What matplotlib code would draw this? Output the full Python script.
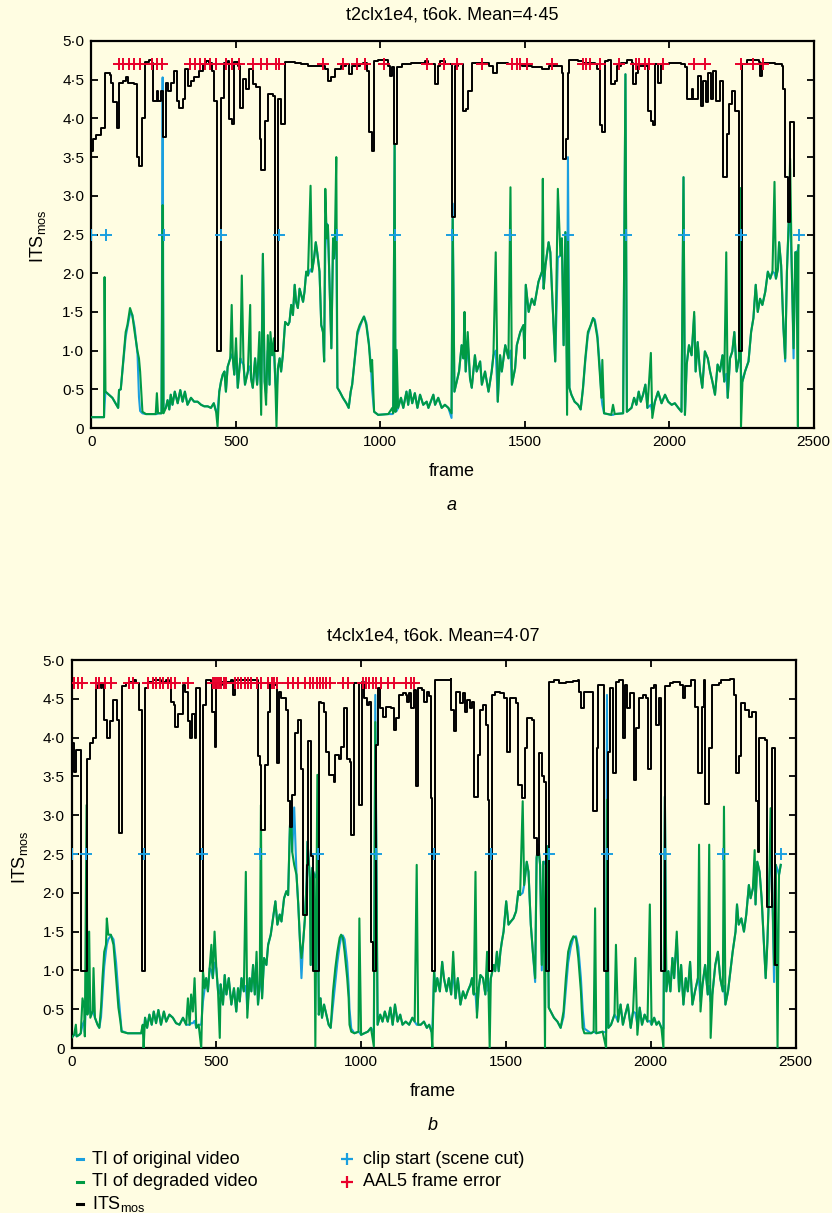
import matplotlib
matplotlib.use('Agg')
import matplotlib.pyplot as plt
from matplotlib.lines import Line2D

plt.rcParams['font.family'] = ['Liberation Sans', 'DejaVu Sans']
plt.rcParams['mathtext.default'] = 'regular'

BG = '#fffde2'
BLUE = '#1a9fdf'
GREEN = '#009a44'
RED = '#e8002b'

# ---------------- data ----------------
clip_start = [0, 50, 250, 450, 650, 850, 1050, 1250, 1450, 1650, 1850, 2050, 2250, 2450]
clip_level = 2.5
aal5_level = 4.7
y_ticks = [0, 0.5, 1.0, 1.5, 2.0, 2.5, 3.0, 3.5, 4.0, 4.5, 5.0]
y_ticklabels = ['0', '0·5', '1·0', '1·5', '2·0', '2·5', '3·0', '3·5', '4·0', '4·5', '5·0']
x_ticks = [0, 500, 1000, 1500, 2000, 2500]

# panel a : (frame, TI degraded, TI original)
ti_a = [(0,0.14,0.14),(44,0.14,0.14),(46,1.95,0.30),(49,0.47,0.47),(61,0.43,0.43),(73,0.39,0.39),(84,0.32,0.32),
(93,0.26,0.26),(96,0.49,0.49),(102,0.50,0.50),(111,0.90,0.86),(119,1.24,1.18),(125,1.33,1.30),(134,1.55,1.48),
(142,1.46,1.46),(150,1.24,1.30),(160,0.99,0.95),(165,0.90,0.40),(169,0.73,0.22),(177,0.21,0.19),(189,0.18,0.18),
(223,0.18,0.18),(227,0.45,0.18),(231,0.19,0.19),(243,0.19,0.19),(247,2.88,4.53),(250,0.19,0.22),(258,0.26,0.26),
(264,0.36,0.36),(270,0.24,0.24),(275,0.43,0.43),(281,0.30,0.30),(289,0.47,0.47),(299,0.32,0.32),(308,0.49,0.49),
(316,0.34,0.34),(324,0.47,0.47),(333,0.30,0.30),(345,0.39,0.39),(356,0.34,0.34),(368,0.34,0.34),(380,0.30,0.30),
(391,0.28,0.28),(403,0.28,0.28),(414,0.26,0.26),(424,0.32,0.32),(432,0.21,0.21),(437,0.02,0.22),(443,0.47,0.47),
(449,0.60,0.60),(455,0.69,0.69),(461,0.73,0.73),(466,0.47,0.47),(472,0.79,0.79),(481,0.90,0.90),(486,1.59,0.95),
(490,0.90,0.90),(495,0.69,0.69),(501,1.16,1.00),(507,0.52,0.52),(516,0.90,0.90),(521,1.97,0.85),(527,0.82,0.82),
(532,0.56,0.56),(542,0.73,0.73),(550,1.59,0.80),(553,0.64,0.64),(559,0.52,0.52),(567,0.90,0.90),(574,0.56,0.56),
(582,1.24,0.90),(588,0.17,0.50),(594,2.25,2.25),(600,0.60,0.60),(605,0.30,0.45),(611,1.20,1.00),(617,0.56,0.56),
(620,1.24,1.10),(626,0.94,0.94),(632,1.16,1.00),(637,0.60,0.60),(641,0.02,0.45),(646,0.77,0.77),(652,0.90,0.90),
(657,0.73,0.73),(663,0.94,0.94),(671,1.37,1.37),(681,1.33,1.33),(686,1.37,1.37),(692,1.59,1.59),(698,1.46,1.46),
(704,1.85,1.85),(709,1.63,1.63),(715,1.55,1.55),(721,1.80,1.80),(733,1.63,1.63),(738,1.76,1.76),(744,2.02,2.02),
(750,1.97,1.97),(759,3.13,2.05),(764,2.02,2.02),(771,2.19,2.19),(777,2.40,2.40),(782,2.27,2.27),(790,2.02,2.02),
(796,1.33,1.33),(802,1.24,1.24),(806,0.86,0.86),(810,3.09,2.30),(815,2.45,2.64),(819,2.62,2.62),(831,1.03,1.03),
(837,2.45,2.45),(840,2.19,2.19),(843,2.36,2.36),(848,3.50,2.40),(852,0.52,0.52),(860,0.47,0.47),(871,0.39,0.39),
(883,0.32,0.32),(891,0.26,0.26),(898,0.47,0.47),(903,0.56,0.56),(912,0.90,0.88),(921,1.24,1.20),(929,1.33,1.30),
(941,1.42,1.42),(944,1.44,1.44),(952,1.33,1.36),(961,1.07,1.10),(968,0.73,0.80),(972,0.88,0.50),(979,0.21,0.21),
(993,0.17,0.17),(1028,0.18,0.18),(1042,0.26,0.18),(1045,0.19,0.19),(1050,3.67,3.67),(1053,0.21,0.21),(1057,1.01,0.22),
(1062,0.26,0.26),(1072,0.39,0.39),(1080,0.26,0.26),(1091,0.47,0.47),(1097,0.30,0.30),(1103,0.49,0.49),(1111,0.32,0.32),
(1120,0.45,0.45),(1129,0.26,0.26),(1138,0.43,0.43),(1149,0.30,0.30),(1161,0.34,0.34),(1167,0.26,0.26),(1184,0.43,0.43),
(1190,0.30,0.30),(1201,0.39,0.39),(1213,0.26,0.26),(1224,0.30,0.30),(1236,0.26,0.26),(1247,0.19,0.13),(1251,2.70,2.90),
(1257,0.47,0.47),(1265,0.60,0.60),(1273,0.73,0.73),(1282,1.07,1.07),(1288,0.90,0.90),(1292,1.50,1.20),(1296,0.73,0.73),
(1303,1.24,1.10),(1311,0.64,0.64),(1317,0.52,0.52),(1328,0.94,0.94),(1334,0.73,0.73),(1346,0.86,0.86),(1352,0.56,0.56),
(1363,0.73,0.73),(1375,0.47,0.47),(1386,0.73,0.73),(1392,0.94,0.94),(1400,2.27,1.00),(1407,0.34,0.34),(1415,0.94,0.94),
(1421,0.73,0.73),(1433,1.07,1.07),(1444,0.90,0.90),(1451,3.11,1.00),(1456,0.56,0.56),(1467,0.77,0.77),(1473,1.07,1.07),
(1485,1.24,1.24),(1496,1.33,1.33),(1500,0.90,0.90),(1504,1.85,1.85),(1514,1.50,1.50),(1525,1.67,1.67),(1534,1.59,1.59),
(1548,1.89,1.89),(1560,2.02,2.02),(1563,3.22,2.00),(1566,1.80,1.80),(1572,2.10,2.10),(1583,2.40,2.40),(1589,2.27,2.27),
(1600,1.33,1.33),(1606,0.86,0.86),(1615,3.09,2.20),(1624,2.23,2.23),(1629,2.45,2.45),(1635,1.07,1.07),(1641,2.53,2.53),
(1647,0.17,0.80),(1650,2.45,3.50),(1655,0.52,0.52),(1662,0.43,0.43),(1673,0.34,0.34),(1685,0.30,0.30),(1694,0.24,0.24),
(1702,0.52,0.50),(1710,0.90,0.86),(1719,1.24,1.20),(1729,1.33,1.33),(1737,1.42,1.42),(1743,1.37,1.40),(1752,1.16,1.20),
(1760,0.73,0.80),(1766,0.39,0.40),(1769,0.88,0.30),(1775,0.19,0.19),(1800,0.17,0.17),(1806,0.30,0.17),(1812,0.18,0.18),
(1841,0.19,0.19),(1849,4.57,4.57),(1854,0.21,0.21),(1870,0.26,0.26),(1879,0.39,0.39),(1887,0.30,0.30),(1895,0.47,0.47),
(1902,0.34,0.34),(1910,0.43,0.43),(1918,0.56,0.56),(1925,0.26,0.26),(1937,0.97,0.30),(1942,0.13,0.20),(1951,0.34,0.34),
(1962,0.47,0.47),(1974,0.32,0.32),(1986,0.43,0.43),(1997,0.34,0.34),(2009,0.30,0.30),(2020,0.32,0.32),(2032,0.26,0.26),
(2043,0.21,0.21),(2050,3.24,3.24),(2055,0.17,0.17),(2061,0.82,0.82),(2069,1.07,1.07),(2078,0.94,0.94),(2087,1.50,1.45),
(2092,0.73,0.73),(2099,1.11,1.11),(2107,0.73,0.73),(2115,0.52,0.52),(2124,0.99,0.99),(2134,0.90,0.90),(2142,0.73,0.73),
(2150,0.60,0.60),(2159,0.43,0.43),(2168,0.82,0.82),(2176,0.73,0.73),(2185,0.94,0.94),(2191,0.60,0.60),(2198,2.27,0.70),
(2203,0.39,0.39),(2211,0.90,0.90),(2219,0.99,0.99),(2226,1.24,1.24),(2234,0.73,0.73),(2242,0.90,0.90),(2247,3.10,1.00),
(2249,0.02,0.70),(2254,0.60,0.60),(2263,0.73,0.73),(2275,0.86,0.86),(2284,1.24,1.24),(2292,1.42,1.42),(2300,1.85,1.85),
(2307,1.50,1.50),(2315,1.67,1.67),(2323,1.59,1.59),(2333,1.76,1.76),(2342,2.02,2.02),(2350,1.93,1.93),(2358,2.02,2.02),
(2365,3.18,2.00),(2370,1.93,1.93),(2377,2.06,2.06),(2381,2.40,2.40),(2388,2.10,2.10),(2396,1.29,1.29),(2402,0.90,0.86),
(2408,2.02,2.02),(2414,2.64,2.64),(2419,3.48,2.70),(2425,2.02,2.02),(2431,1.03,0.90),(2437,2.27,2.27),(2441,2.27,2.27),
(2446,0.02,2.30),(2448,2.36,2.36)]

# panel a : ITSmos steps (frame, value)
its_a = [(0,3.58),(7,3.73),(15,3.78),(32,3.87),(46,4.59),(65,4.56),(69,4.46),(76,4.21),(88,3.88),(97,4.46),(109,4.48),
(119,4.54),(127,4.46),(148,4.44),(157,3.50),(166,3.39),(177,4.01),(185,4.73),(200,4.76),(209,4.72),(215,4.23),(227,4.36),
(231,4.23),(241,4.36),(247,3.76),(259,4.46),(266,4.36),(275,4.46),(285,4.61),(296,4.23),(304,4.14),(319,4.25),(325,4.64),
(336,4.42),(345,4.48),(356,4.54),(374,4.61),(385,4.70),(397,4.74),(409,4.72),(417,4.61),(426,4.23),(436,0.99),(449,4.27),
(458,4.72),(472,4.74),(478,3.99),(486,3.93),(495,4.73),(507,4.68),(516,4.14),(524,4.51),(536,4.38),(547,4.64),(559,4.44),
(571,4.40),(584,3.73),(588,3.33),(600,3.97),(611,4.31),(628,4.29),(637,0.99),(648,4.25),(657,3.93),(669,4.73),(704,4.72),
(727,4.70),(750,4.68),(785,4.68),(808,4.64),(819,4.48),(831,4.53),(845,4.64),(863,4.68),(883,4.70),(891,4.57),(903,4.68),
(929,4.70),(941,4.72),(956,4.61),(960,3.82),(970,3.58),(979,4.74),(993,4.76),(1028,4.68),(1033,4.55),(1041,4.66),
(1047,3.67),(1059,4.66),(1077,4.70),(1108,4.72),(1155,4.74),(1166,4.70),(1189,4.44),(1200,4.68),(1207,4.74),(1225,4.70),
(1250,2.73),(1259,4.68),(1268,4.70),(1286,4.10),(1296,4.12),(1305,4.36),(1319,4.72),(1375,4.68),(1392,4.59),(1404,4.72),
(1444,4.70),(1490,4.68),(1525,4.66),(1560,4.64),(1583,4.68),(1620,4.68),(1629,4.59),(1633,3.48),(1643,3.73),(1650,4.59),
(1655,4.76),(1685,4.74),(1702,4.72),(1743,4.70),(1752,4.64),(1760,3.91),(1769,3.82),(1777,4.74),(1788,4.76),(1798,4.44),
(1812,4.48),(1819,4.68),(1835,4.72),(1853,4.76),(1870,4.72),(1876,4.44),(1887,4.59),(1893,4.68),(1928,4.10),(1937,3.97),
(1945,3.91),(1953,4.70),(1960,4.46),(1972,4.70),(2000,4.71),(2043,4.70),(2055,4.66),(2061,4.25),(2078,4.38),(2084,4.25),
(2101,4.55),(2110,4.16),(2119,4.48),(2127,4.21),(2136,4.59),(2145,4.25),(2153,4.61),(2163,4.23),(2176,4.48),(2188,3.24),
(2200,3.80),(2209,4.18),(2217,4.36),(2229,4.10),(2242,0.99),(2254,4.70),(2269,4.76),(2310,4.73),(2315,4.55),(2321,4.72),
(2367,4.70),(2390,4.68),(2396,4.38),(2402,3.24),(2412,2.66),(2420,3.95),(2432,3.26),(2434,3.26)]

aal5_a = [95, 111, 130, 149, 167, 211, 227, 245, 340, 358, 375, 392, 412, 433, 468, 488, 512, 560, 589, 607, 641, 651,
          801, 873, 919, 948, 1012, 1162, 1220, 1266, 1351, 1456, 1472, 1485, 1507, 1594, 1703, 1714, 1725, 1760, 1826,
          1885, 1897, 1916, 1932, 1978, 2086, 2126, 2248, 2292, 2326]

# panel b : (frame, TI degraded, TI original)
ti_b = [(0,0.13,0.13),(9,0.17,0.17),(15,0.30,0.17),(18,0.15,0.15),(27,0.17,0.17),(32,0.19,0.19),(38,0.64,0.30),
(44,0.52,0.35),(46,0.15,0.20),(52,3.13,0.80),(55,0.43,0.60),(61,1.50,0.50),(65,0.39,0.45),(73,0.47,0.47),(76,1.03,0.45),
(81,0.39,0.39),(90,0.30,0.30),(96,0.26,0.26),(102,0.52,0.40),(107,0.90,0.70),(113,1.24,1.05),(119,1.33,1.25),
(122,1.67,1.33),(127,1.46,1.40),(136,1.46,1.45),(145,1.33,1.40),(154,0.90,1.10),(162,0.52,0.70),(169,0.34,0.40),
(173,0.21,0.22),(194,0.19,0.19),(240,0.19,0.19),(246,0.30,0.19),(249,0.00,0.20),(254,0.39,0.39),(261,0.26,0.26),
(269,0.43,0.43),(277,0.30,0.30),(284,0.47,0.47),(292,0.32,0.32),(300,0.49,0.49),(309,0.30,0.30),(319,0.47,0.47),
(327,0.34,0.34),(338,0.43,0.43),(350,0.39,0.39),(361,0.32,0.32),(373,0.30,0.30),(385,0.39,0.39),(396,0.30,0.30),
(402,0.64,0.30),(408,0.30,0.30),(413,0.69,0.32),(419,0.47,0.32),(425,0.90,0.35),(431,0.26,0.26),(439,0.30,0.30),
(448,0.00,0.30),(454,0.99,0.60),(460,0.77,0.77),(465,0.90,0.90),(471,0.73,0.73),(477,1.03,1.03),(483,1.33,1.00),
(488,0.90,0.90),(494,1.50,1.10),(500,1.03,1.03),(506,0.73,0.73),(512,0.13,0.70),(515,0.82,0.82),(523,0.56,0.56),
(529,0.94,0.94),(535,0.69,0.69),(543,0.90,0.90),(552,0.56,0.56),(561,0.77,0.77),(569,0.47,0.47),(575,0.77,0.77),
(581,0.60,0.60),(587,0.90,0.90),(595,0.73,0.73),(602,2.27,0.80),(607,0.39,0.50),(615,0.90,0.90),(621,0.73,0.73),
(627,1.07,1.07),(633,0.69,0.69),(639,1.24,1.10),(644,0.56,0.56),(650,0.82,0.82),(654,3.13,1.00),(658,0.64,0.64),
(665,1.16,1.16),(673,1.07,1.07),(679,1.33,1.33),(688,1.46,1.46),(696,1.67,1.67),(704,1.89,1.89),(711,1.59,1.59),
(719,1.72,1.72),(725,1.63,1.63),(734,1.93,1.93),(742,2.02,2.02),(748,1.97,1.97),(754,2.83,2.83),(758,3.18,3.13),
(762,2.53,2.53),(769,2.36,3.10),(777,2.23,2.23),(783,1.85,1.85),(789,1.37,1.37),(794,1.16,0.90),(800,1.37,1.37),
(806,1.67,1.67),(812,2.15,2.15),(815,2.66,2.66),(820,2.36,2.36),(823,2.19,2.19),(826,1.07,1.07),(831,2.32,2.32),
(838,2.23,2.23),(842,0.02,2.20),(849,3.52,2.30),(854,0.43,0.43),(860,0.64,0.64),(865,0.39,0.39),(872,0.56,0.56),
(880,0.43,0.43),(888,0.30,0.30),(895,0.26,0.26),(903,0.73,0.55),(911,1.03,0.85),(918,1.24,1.10),(926,1.42,1.33),
(931,1.46,1.42),(937,1.42,1.45),(943,1.24,1.40),(952,0.90,1.10),(957,0.64,0.80),(960,0.30,0.50),(966,0.21,0.25),
(977,0.19,0.19),(991,0.21,0.21),(994,1.67,0.20),(1000,0.17,0.17),(1011,0.19,0.19),(1023,0.21,0.21),(1034,0.26,0.26),
(1044,0.02,0.20),(1049,4.20,4.55),(1057,0.30,0.30),(1066,0.43,0.43),(1074,0.34,0.34),(1082,0.47,0.47),(1092,0.34,0.34),
(1101,0.52,0.52),(1109,0.30,0.30),(1117,0.56,0.56),(1126,0.34,0.34),(1135,0.43,0.43),(1143,0.30,0.30),(1154,0.34,0.34),
(1166,0.30,0.30),(1177,0.39,0.39),(1185,0.34,0.34),(1192,2.36,0.30),(1197,0.30,0.30),(1206,0.30,0.30),(1217,0.34,0.34),
(1227,0.26,0.26),(1235,0.30,0.30),(1243,0.21,0.21),(1246,0.00,0.25),(1252,0.99,0.99),(1257,0.73,0.73),(1263,0.90,0.90),
(1272,0.73,0.73),(1280,1.11,1.11),(1286,0.90,0.90),(1295,0.73,0.73),(1303,0.90,0.90),(1311,0.69,0.69),(1318,1.24,1.00),
(1326,0.64,0.64),(1334,0.90,0.90),(1343,0.56,0.56),(1352,0.73,0.73),(1360,0.64,0.64),(1368,0.73,0.73),(1378,0.82,0.82),
(1383,0.90,0.90),(1389,0.69,0.69),(1395,2.27,0.70),(1400,0.39,0.45),(1406,0.77,0.77),(1412,0.94,0.94),(1421,0.90,0.90),
(1429,0.69,0.69),(1435,1.24,1.00),(1440,0.73,0.73),(1444,0.00,0.80),(1448,0.90,0.90),(1458,1.07,1.07),(1463,0.99,0.99),
(1469,1.24,1.24),(1475,0.99,0.99),(1481,1.24,1.24),(1486,1.37,1.37),(1492,1.50,1.50),(1501,1.89,1.89),(1509,1.59,1.59),
(1517,1.63,1.63),(1526,1.67,1.67),(1535,1.76,1.76),(1543,2.02,2.02),(1549,1.97,1.97),(1558,3.18,2.00),(1563,2.10,2.10),
(1572,2.40,2.40),(1578,2.27,2.27),(1586,1.59,1.59),(1593,1.24,1.24),(1601,0.90,0.85),(1606,2.45,2.45),(1612,2.62,2.62),
(1618,2.36,2.36),(1624,1.07,1.00),(1629,2.40,2.40),(1635,0.00,2.40),(1638,2.36,2.36),(1643,2.60,2.60),(1648,0.52,0.52),
(1655,0.47,0.47),(1666,0.39,0.39),(1678,0.34,0.34),(1689,0.26,0.26),(1699,0.47,0.40),(1707,0.90,0.75),(1715,1.24,1.10),
(1724,1.37,1.30),(1733,1.44,1.42),(1742,1.42,1.44),(1750,1.16,1.30),(1759,0.73,0.90),(1765,0.26,0.50),(1771,0.19,0.25),
(1794,0.19,0.19),(1803,0.21,0.21),(1808,1.80,0.20),(1812,0.19,0.19),(1834,0.21,0.21),(1846,0.00,0.20),(1849,3.20,4.55),
(1854,0.26,0.26),(1863,0.30,0.30),(1875,0.43,0.43),(1880,1.33,0.40),(1887,0.34,0.34),(1896,0.56,0.56),(1904,0.30,0.30),
(1912,0.43,0.43),(1921,0.56,0.56),(1931,0.26,0.26),(1939,0.47,0.47),(1947,1.16,0.45),(1954,0.17,0.30),(1962,0.52,0.52),
(1970,0.30,0.30),(1979,0.43,0.43),(1989,0.34,0.34),(1997,1.85,0.35),(2003,0.30,0.30),(2012,0.39,0.39),(2020,0.30,0.30),
(2028,0.34,0.34),(2037,0.26,0.26),(2044,0.00,0.25),(2049,3.24,3.24),(2054,0.73,0.73),(2061,0.99,0.99),(2068,0.73,0.73),
(2075,1.16,1.16),(2081,0.90,0.90),(2090,1.50,1.40),(2098,0.73,0.73),(2105,1.07,1.07),(2113,0.56,0.56),(2121,0.90,0.90),
(2128,0.73,0.73),(2136,1.11,1.11),(2144,0.56,0.56),(2153,0.73,0.73),(2163,0.90,0.90),(2167,2.62,0.85),(2172,0.47,0.60),
(2179,0.82,0.82),(2188,1.07,1.07),(2197,0.69,0.69),(2202,2.62,0.80),(2207,0.13,0.60),(2214,0.73,0.73),(2223,1.07,1.07),
(2232,1.24,1.24),(2240,0.90,0.90),(2249,0.73,0.73),(2253,3.11,0.80),(2258,0.56,0.56),(2267,0.73,0.73),(2275,0.99,0.99),
(2283,1.24,1.24),(2293,1.50,1.50),(2298,1.85,1.85),(2304,1.59,1.59),(2313,1.67,1.67),(2322,1.50,1.50),(2330,1.72,1.72),
(2339,2.10,2.10),(2345,1.93,1.93),(2353,2.06,2.06),(2359,2.55,2.30),(2362,1.85,1.85),(2368,2.40,2.40),(2376,2.27,2.27),
(2383,1.93,1.93),(2391,1.33,1.33),(2397,0.90,0.90),(2403,1.37,1.37),(2409,2.06,2.06),(2414,3.09,2.50),(2418,2.36,2.36),
(2426,1.07,0.85),(2432,2.36,2.36),(2438,0.00,2.30),(2443,2.23,2.23),(2449,2.36,2.36)]

its_b = [(0,3.93),(9,3.56),(17,3.84),(32,0.99),(52,3.71),(55,3.73),(65,3.93),(73,3.99),(84,4.64),(92,4.68),(102,4.64),
(105,4.68),(111,4.23),(122,3.99),(134,4.21),(144,4.48),(156,4.23),(163,2.77),(173,4.66),(188,4.70),(200,4.72),(215,4.74),
(223,4.70),(232,4.36),(242,0.99),(254,4.64),(263,4.72),(281,4.74),(309,4.72),(327,4.74),(338,4.70),(344,4.46),(353,4.42),
(358,4.14),(367,4.31),(385,4.68),(393,4.59),(402,4.21),(408,3.99),(417,4.31),(425,3.99),(431,4.64),(442,0.99),(454,4.42),
(465,4.74),(480,4.70),(485,4.33),(494,3.88),(500,4.70),(512,4.68),(520,4.72),(552,4.74),(558,4.55),(564,4.74),(644,3.76),
(652,3.65),(656,2.81),(667,3.65),(677,4.33),(685,4.70),(696,4.68),(711,3.67),(716,4.59),(725,4.51),(742,4.36),(748,3.18),
(754,2.85),(760,3.26),(771,4.06),(783,4.23),(792,3.60),(800,1.72),(812,2.36),(818,3.95),(826,2.47),(834,0.99),(854,4.46),
(863,4.44),(872,4.33),(880,3.82),(888,3.52),(906,3.43),(911,3.78),(922,3.73),(931,3.88),(941,4.38),(952,3.73),(960,3.69),
(966,2.75),(974,4.70),(992,3.13),(1002,4.72),(1011,4.51),(1021,4.42),(1029,4.46),(1034,1.37),(1041,0.99),(1052,3.90),
(1057,4.64),(1066,4.38),(1074,4.27),(1086,4.40),(1103,4.38),(1112,4.10),(1120,4.25),(1132,4.55),(1143,4.57),(1154,4.55),
(1160,4.46),(1166,4.57),(1174,4.38),(1183,4.61),(1189,3.37),(1197,4.64),(1212,4.61),(1217,4.46),(1227,4.59),(1235,4.53),
(1241,3.22),(1244,0.99),(1254,4.74),(1309,4.76),(1311,4.36),(1320,4.08),(1326,4.59),(1338,4.59),(1343,4.44),(1352,4.57),
(1360,4.33),(1366,4.48),(1375,4.38),(1383,4.46),(1391,3.24),(1403,3.78),(1412,4.36),(1421,4.42),(1432,4.16),(1438,3.20),
(1442,0.99),(1452,4.55),(1463,4.59),(1481,4.57),(1492,4.51),(1503,3.82),(1513,4.51),(1535,4.44),(1543,3.39),(1555,3.22),
(1566,3.86),(1574,4.25),(1589,4.23),(1597,2.70),(1606,2.49),(1615,3.80),(1624,3.50),(1632,3.43),(1638,0.99),(1650,4.72),
(1666,4.74),(1684,4.71),(1707,4.72),(1730,4.73),(1750,4.74),(1753,4.59),(1759,4.38),(1768,4.59),(1800,3.05),(1815,3.86),
(1819,4.68),(1840,0.99),(1852,3.82),(1858,4.64),(1869,3.54),(1881,4.72),(1892,4.74),(1904,3.99),(1910,4.68),(1919,4.38),
(1927,4.57),(1942,3.45),(1950,4.12),(1959,4.51),(1974,4.55),(1985,4.51),(1991,3.60),(2000,4.64),(2012,4.68),(2020,4.16),
(2028,4.51),(2037,0.99),(2049,4.66),(2066,4.70),(2078,4.72),(2101,4.68),(2113,4.51),(2119,4.66),(2139,4.74),(2153,4.40),
(2165,3.54),(2177,4.40),(2185,4.74),(2188,3.15),(2202,3.86),(2211,4.68),(2235,4.70),(2244,4.74),(2275,4.75),(2287,4.55),
(2295,3.54),(2304,3.76),(2313,4.44),(2327,4.36),(2339,4.27),(2351,4.33),(2362,3.18),(2370,2.53),(2374,3.99),(2395,3.97),
(2403,1.82),(2414,1.82),(2420,3.86),(2429,1.07),(2436,1.07)]

aal5_b = [9, 23, 35, 84, 96, 115, 136, 200, 211, 263, 281, 292, 304, 315, 333, 344, 356, 402, 488, 494, 502, 508, 517,
          527, 535, 564, 575, 587, 598, 610, 621, 639, 656, 679, 693, 700, 708, 748, 766, 783, 806, 823, 834, 846, 857,
          868, 880, 891, 937, 954, 1006, 1017, 1029, 1040, 1052, 1069, 1092, 1114, 1154, 1172, 1183]

# ---------------- figure ----------------
W, H = 832, 1213
fig = plt.figure(figsize=(W / 100, H / 100), dpi=100)
fig.patch.set_facecolor(BG)


def fx(px):
    return px / W


def fy(py):
    return 1 - py / H


def draw_panel(rect, ti, its, aal5, title, letter, title_xy, ylab_x):
    ax = fig.add_axes(rect)
    ax.set_facecolor(BG)
    frames = [p[0] for p in ti]
    ax.plot(frames, [p[2] for p in ti], color=BLUE, lw=1.5, zorder=2)
    ax.plot(frames, [p[1] for p in ti], color=GREEN, lw=1.5, zorder=3)
    ax.plot([p[0] for p in its], [p[1] for p in its], color='black', lw=1.4,
            drawstyle='steps-post', zorder=4)
    ax.plot(clip_start, [clip_level] * len(clip_start), '+', color=BLUE, ms=8, mew=1.4, zorder=5)
    ax.plot(aal5, [aal5_level] * len(aal5), '+', color=RED, ms=8, mew=1.4, zorder=5)

    ax.set_xlim(0, 2500)
    ax.set_ylim(0, 5)
    ax.set_xticks(x_ticks)
    ax.set_yticks(y_ticks)
    ax.set_yticklabels(y_ticklabels)
    ax.tick_params(direction='in', top=True, right=True, length=5, width=1.3,
                   labelsize=11, pad=5)
    for s in ax.spines.values():
        s.set_linewidth(1.6)

    cx = title_xy[0]
    fig.text(fx(cx), fy(title_xy[1]), title, ha='center', va='center', fontsize=13)
    fig.text(fx(cx), fy(title_xy[1] + 456), 'frame', ha='center', va='center', fontsize=13)
    fig.text(fx(cx), fy(title_xy[1] + 490), letter, ha='center', va='center', fontsize=13,
             style='italic')
    fig.text(fx(ylab_x), fy(title_xy[1] + 221), 'ITS$_{mos}$', ha='center', va='center',
             fontsize=13, rotation=90)
    return ax


draw_panel([fx(91.3), fy(428), (813.5 - 91.3) / W, 387 / H], ti_a, its_a, aal5_a,
           't2clx1e4, t6ok. Mean=4·45', 'a', (452, 15), 38)
draw_panel([fx(71.5), fy(1048), (795.5 - 71.5) / W, 388 / H], ti_b, its_b, aal5_b,
           't4clx1e4, t6ok. Mean=4·07', 'b', (433, 636), 20)

# ---------------- legend ----------------
rows = [1159, 1181.5, 1204]
col1_items = [(BLUE, 'TI of original video'), (GREEN, 'TI of degraded video'),
              ('black', 'ITS$_{mos}$')]
for (c, lab), yy in zip(col1_items, rows):
    fig.add_artist(Line2D([fx(76.5), fx(83)], [fy(yy), fy(yy)], color=c, lw=2.2,
                          transform=fig.transFigure))
    fig.text(fx(92), fy(yy), lab, ha='left', va='center', fontsize=13)
col2_items = [(BLUE, 'clip start (scene cut)'), (RED, 'AAL5 frame error')]
for (c, lab), yy in zip(col2_items, rows[:2]):
    fig.add_artist(Line2D([fx(347)], [fy(yy)], color=c, marker='+', ms=8, mew=1.6, ls='none',
                          transform=fig.transFigure))
    fig.text(fx(363), fy(yy), lab, ha='left', va='center', fontsize=13)

fig.savefig('out.png', dpi=100, facecolor=BG)
